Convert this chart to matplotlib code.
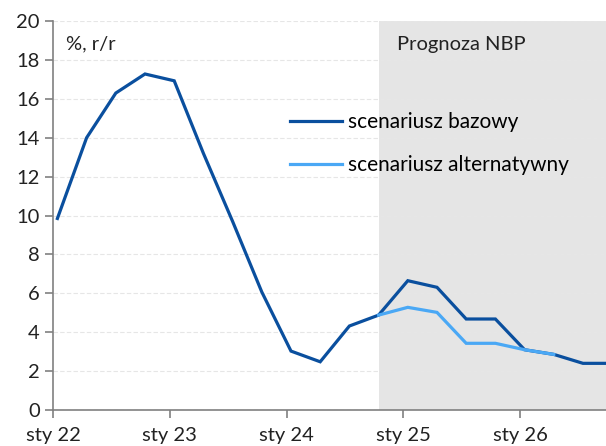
import matplotlib.pyplot as plt

# quarterly CPI, Q1 2022 .. Q4 2026
base = [9.85, 14.0, 16.3, 17.28, 16.93, 13.2, 9.7, 6.07, 3.03, 2.48, 4.32, 4.88,
        6.65, 6.31, 4.68, 4.68, 3.1, 2.86, 2.4, 2.4]
# alternative scenario, Q4 2024 .. Q2 2026
alt = [4.88, 5.28, 5.02, 3.43, 3.43, 3.1, 2.86]
alt_start = 11
tick_labels = ['sty 22', 'sty 23', 'sty 24', 'sty 25', 'sty 26']

plt.rcParams['font.family'] = ['Lato', 'DejaVu Sans']
dark = '#0a4f9e'
light = '#4aa8f5'
off = 0.15

fig = plt.figure(figsize=(6.06, 4.46), dpi=100)
ax = fig.add_axes([0.0875, 0.0807, 0.9125, 0.872])

xb = list(range(len(base)))
xa = list(range(alt_start, alt_start + len(alt)))

ax.axvspan(alt_start, 30, color='#e5e5e5', zorder=0, lw=0)
ax.plot(xb, base, color=dark, lw=2.3, label='scenariusz bazowy', zorder=3,
        solid_joinstyle='miter')
ax.plot(xa, alt, color=light, lw=2.3, label='scenariusz alternatywny', zorder=4,
        solid_joinstyle='miter')

ax.set_ylim(0, 20)
ax.set_yticks(range(0, 21, 2))
ax.set_xlim(-off, -off + 553 / 29.2)
ax.set_xticks([i * 4 - off for i in range(len(tick_labels))])
ax.set_xticklabels(tick_labels)

ax.grid(axis='y', color='#e6e6e6', lw=0.8, ls=(0, (4, 2)), zorder=1)
ax.set_axisbelow(True)
for s in ['top', 'right']:
    ax.spines[s].set_visible(False)
for s in ['left', 'bottom']:
    ax.spines[s].set_color('#808080')
    ax.spines[s].set_linewidth(1.2)
ax.tick_params(axis='both', colors='#808080', labelcolor='#222222', labelsize=14.5,
               length=6, width=1.2)
ax.tick_params(axis='x', pad=6)

ax.text(0.3, 18.85, '%, r/r', fontsize=14.5, color='#222222', va='center')
ax.text(13.82, 18.8, 'Prognoza NBP', fontsize=14.5, color='#222222', va='center', ha='center')

ax.legend(loc='upper left', bbox_to_anchor=(0.4286, 0.765), frameon=False, fontsize=15,
          handlelength=2.5, handletextpad=0.3, labelspacing=1.1, borderpad=0,
          borderaxespad=0)

fig.savefig('out.png', dpi=100)
